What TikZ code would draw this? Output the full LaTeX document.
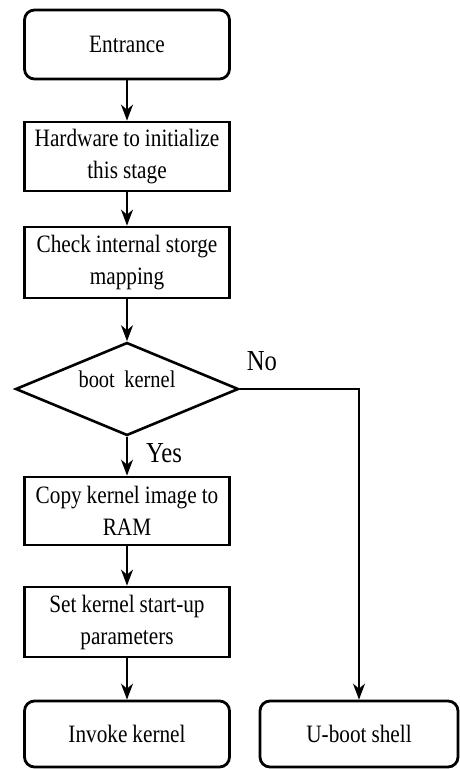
\documentclass[tikz,border=0pt]{standalone}
\usepackage{fontspec}
\setmainfont{Liberation Serif}
\newfontfamily\narrowserif[FakeStretch=0.85]{Liberation Serif}
\newcommand\tightspaces{\spaceskip=0.2em plus 0.05em minus 0.02em\relax}
\usetikzlibrary{shapes.geometric,arrows.meta}
\begin{document}
\begin{tikzpicture}[x=1bp,y=-1bp,
  box/.style={draw,line width=2.8bp,minimum width=205bp,minimum height=69bp,
    inner sep=0pt,align=flush center,text width=204bp,
    font=\narrowserif\fontsize{25bp}{32bp}\selectfont,
    execute at begin node=\tightspaces},
  term/.style={box,rounded corners=10bp},
  decision/.style={diamond,draw,line width=2.6bp,aspect=2.4,inner sep=0pt,
    minimum width=223bp,minimum height=93bp},
  flow/.style={line width=2bp,-{Stealth[length=16bp,width=12bp,inset=5bp]}},
  lbl/.style={font=\narrowserif\fontsize{29bp}{32bp}\selectfont}]
  \useasboundingbox (0,0) rectangle (460,769);

  % main column
  \node[term] (ent) at (127,44.5) {Entrance};
  \node[box]  (hw)  at (127,156.5) {Hardware to initialize\\this stage};
  \node[box, minimum height=71bp] (chk) at (127,262.5) {Check internal storge\\mapping};
  \node[decision] (dec) at (127,389) {};
  \node[font=\narrowserif\fontsize{24bp}{28bp}\selectfont] (dect) at (127,379) {boot\hspace{0.4em}kernel};
  \node[box, minimum height=68bp] (cp) at (127,511) {Copy kernel image to\\RAM};
  \node[box, minimum height=70bp] (set) at (127,622) {Set kernel start-up\\parameters};
  \node[term, minimum height=66bp] (inv) at (127,734) {Invoke kernel};

  % side branch
  \node[term, minimum width=198bp, minimum height=66bp, text width=196bp] (ub) at (359,734) {U-boot shell};

  % connectors
  \draw[flow] (ent) -- (hw);
  \draw[flow] (hw) -- (chk);
  \draw[flow] (chk) -- (dec.north);
  \draw[flow] (dec.south) -- (cp);
  \draw[flow] (cp) -- (set);
  \draw[flow] (set) -- (inv);
  \draw[flow] (dec.east) -| (ub.north);

  % branch labels
  \node[lbl] (no)  at (262,361) {No};
  \node[lbl] (yes) at (164,453) {Yes};
\end{tikzpicture}
\end{document}
